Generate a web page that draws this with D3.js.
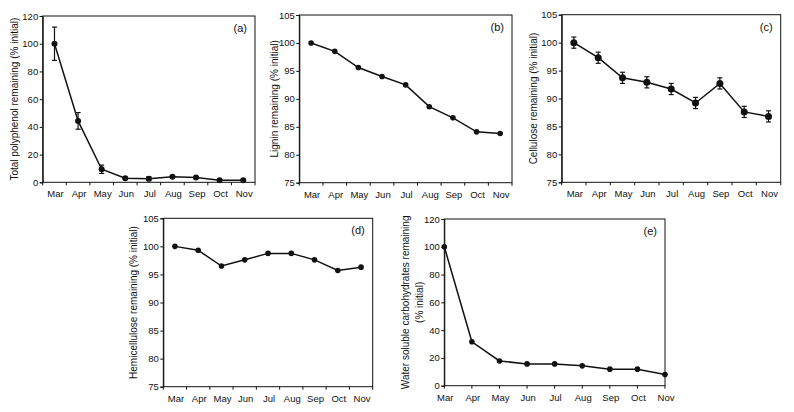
<!DOCTYPE html>
<html><head><meta charset="utf-8">
<script src="https://cdn.jsdelivr.net/npm/d3@7"></script>
<style>
body{margin:0;background:#fff;}
svg text{font-family:Arial,"Liberation Sans",sans-serif;fill:#111;}
</style></head>
<body><svg id="c" width="794" height="412"></svg>
<script>
const months = ["Mar","Apr","May","Jun","Jul","Aug","Sep","Oct","Nov"];
const polyphenol = [100,44.3,9.4,2.9,2.6,4.0,3.5,1.5,1.5];
const polyphenolErr = [12,6,3,0.6,1.4,0.8,0.6,0.5,0.5];
const lignin = [100,98.5,95.6,94.0,92.5,88.6,86.6,84.1,83.8];
const cellulose = [100,97.3,93.7,92.9,91.7,89.2,92.7,87.6,86.8];
const celluloseErr = [1.0,1.0,1.0,1.0,1.0,1.0,1.0,1.0,1.0];
const hemicellulose = [100,99.3,96.5,97.6,98.75,98.75,97.6,95.7,96.3];
const wsc = [100,31.6,17.8,15.7,15.7,14.3,11.9,11.9,8.0];
const ticksPct = [0,20,40,60,80,100,120];
const ticksHigh = [75,80,85,90,95,100,105];

const panels = [
 {tag:"(a)", vals:polyphenol, err:polyphenolErr, dom:[0,120], ticks:ticksPct, x0:42.7,x1:255,y0:16,y1:182.3, band:true, title:["Total polyphenol remaining (% initial)"], tx:[15], r:3},
 {tag:"(b)", vals:lignin, err:null, dom:[75,105], ticks:ticksHigh, x0:299.3,x1:512,y0:15,y1:182.7, band:true, title:["Lignin remaining (% initial)"], tx:[275.5], r:2.8},
 {tag:"(c)", vals:cellulose, err:celluloseErr, dom:[75,105], ticks:ticksHigh, x0:561.7,x1:780.7,y0:14.7,y1:182.3, band:true, title:["Cellulose remaining (% initial)"], tx:[534], r:3.5},
 {tag:"(d)", vals:hemicellulose, err:null, dom:[75,105], ticks:ticksHigh, x0:163.3,x1:372.7,y0:218.3,y1:386.7, band:true, title:["Hemicellulose remaining (% initial)"], tx:[134], r:2.8},
 {tag:"(e)", vals:wsc, err:null, dom:[0,120], ticks:ticksPct, x0:444.3,x1:665,y0:219,y1:385.7, band:false, title:["Water soluble carbohydrates remaining","(% initial)"], tx:[406.5,420], r:2.8}
];

const svg = d3.select("#c");
panels.forEach(p=>{
  const g = svg.append("g");
  let xs, xpos, tickPos;
  if(p.band){
    xs = d3.scaleBand().domain(months).range([p.x0,p.x1]).paddingInner(0).paddingOuter(0);
    xpos = m => xs(m)+xs.bandwidth()/2;
    tickPos = months.map(m=>xs(m)).concat([p.x1]);
  } else {
    xs = d3.scalePoint().domain(months).range([p.x0,p.x1]).padding(0);
    xpos = m => xs(m);
    tickPos = months.map(m=>xs(m));
  }
  const y = d3.scaleLinear().domain(p.dom).range([p.y1,p.y0]);
  g.append("rect").attr("x",p.x0).attr("y",p.y0).attr("width",p.x1-p.x0).attr("height",p.y1-p.y0)
    .attr("fill","none").attr("stroke","#111").attr("stroke-width",1);
  const ya = g.append("g").attr("transform",`translate(${p.x0},0)`)
    .call(d3.axisLeft(y).tickValues(p.ticks).tickSize(3).tickPadding(1.5));
  ya.select(".domain").attr("stroke","#111");
  ya.selectAll(".tick line").attr("stroke","#111");
  ya.selectAll("text").style("font-size","9.5px").attr("fill","#111");
  g.selectAll(".xt").data(tickPos).join("line").attr("x1",d=>d).attr("x2",d=>d)
    .attr("y1",p.y1).attr("y2",p.y1+3).attr("stroke","#111");
  g.selectAll(".xl").data(months).join("text").attr("x",d=>xpos(d)+1).attr("y",p.y1+15)
    .attr("text-anchor","middle").style("font-size","9.5px").text(d=>d);
  const line = d3.line().x((d,i)=>xpos(months[i])).y(d=>y(d));
  g.append("path").datum(p.vals).attr("d",line).attr("fill","none").attr("stroke","#111").attr("stroke-width",1.5);
  if(p.err){
    p.vals.forEach((v,i)=>{
      const cx = xpos(months[i]), e = p.err[i];
      g.append("line").attr("x1",cx).attr("x2",cx).attr("y1",y(v+e)).attr("y2",y(v-e)).attr("stroke","#111").attr("stroke-width",1.2);
      [v+e,v-e].forEach(w=>g.append("line").attr("x1",cx-2.5).attr("x2",cx+2.5).attr("y1",y(w)).attr("y2",y(w)).attr("stroke","#111").attr("stroke-width",1.2));
    });
  }
  g.selectAll(".pt").data(p.vals).join("circle").attr("cx",(d,i)=>xpos(months[i])).attr("cy",d=>y(d))
    .attr("r",p.r).attr("fill","#111");
  g.append("text").attr("x",p.x1-8).attr("y",p.y0+16).attr("text-anchor","end").style("font-size","11px").text(p.tag);
  const cy = (p.y0+p.y1)/2;
  p.title.forEach((t,k)=>{
    g.append("text").attr("transform",`translate(${p.tx[k]},${cy}) rotate(-90)`)
      .attr("text-anchor","middle").attr("dominant-baseline","middle").style("font-size","10px").text(t);
  });
});
</script></body></html>
